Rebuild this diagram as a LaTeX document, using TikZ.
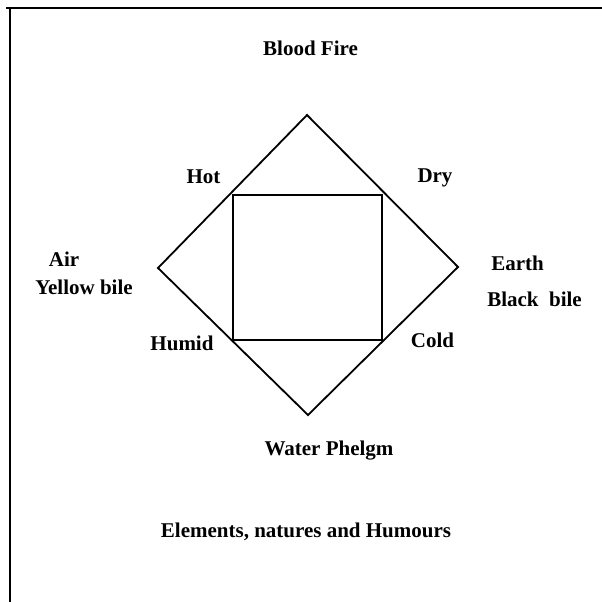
\documentclass[tikz,border=0pt]{standalone}
\usepackage{fontspec}
\setmainfont{Liberation Serif}
\begin{document}
\begin{tikzpicture}[x=1pt,y=-1pt,
  lbl/.style={inner sep=0pt,anchor=center,font=\fontsize{21}{24}\selectfont\bfseries},
  frameline/.style={line width=2pt},
  diamondline/.style={line width=1.8pt,line join=miter},
  squareline/.style={line width=1.6pt}]
\useasboundingbox (0,0) rectangle (602,602);
% frame
\coordinate (ftl) at (10,8.5);
\coordinate (ftr) at (602,8.5);
\coordinate (fbl) at (10,602);
\coordinate (fts) at (6,8.5);
\draw[frameline] (fts) -- (ftr);
\draw[frameline] (ftl) -- (fbl);
% diamond
\coordinate (dT) at (307,115);
\coordinate (dL) at (158,268);
\coordinate (dR) at (458,267);
\coordinate (dB) at (308,415);
\draw[diamondline] (dT) -- (dR) -- (dB) -- (dL) -- cycle;
% square
\coordinate (sTL) at (233,195);
\coordinate (sTR) at (382,195);
\coordinate (sBR) at (382,340);
\coordinate (sBL) at (233,340);
\draw[squareline] (sTL) -- (sTR) -- (sBR) -- (sBL) -- cycle;
% labels
\node[lbl] (blood) at (310.5,48) {Blood Fire};
\node[lbl] (hot) at (203.5,177) {Hot};
\node[lbl] (dry) at (435,178) {Dry};
\node[lbl] (air) at (64,259) {Air};
\node[lbl] (yellow) at (84,287) {Yellow bile};
\node[lbl] (earth) at (517.5,263) {Earth};
\node[lbl] (black) at (534.5,299) {Black\hspace{0.5em}bile};
\node[lbl] (humid) at (182,343) {Humid};
\node[lbl] (cold) at (432.5,340) {Cold};
\node[lbl] (water) at (329,451) {Water Phelgm};
\node[lbl] (title) at (306,532) {Elements, natures and Humours};
\end{tikzpicture}
\end{document}
